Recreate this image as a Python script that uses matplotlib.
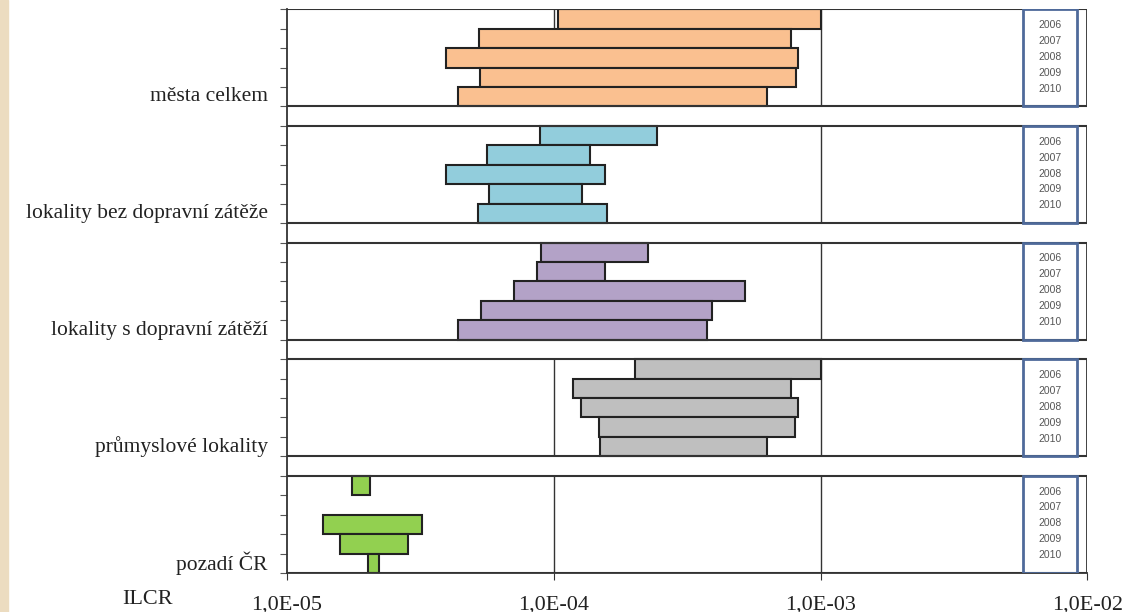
import matplotlib
matplotlib.use("Agg")
import matplotlib.pyplot as plt
from matplotlib.patches import Rectangle

# skupiny lokalit, roky 2006-2010, rozsah ILCR (min, max)
groups = ["města celkem", "lokality bez dopravní zátěže", "lokality s dopravní zátěží",
          "průmyslové lokality", "pozadí ČR"]
years = ["2006", "2007", "2008", "2009", "2010"]
colors = ["#fac090", "#92cddc", "#b3a2c7", "#bfbfbf", "#92d050"]

ilcr_min = [
    [1.04e-4, 5.25e-5, 3.94e-5, 5.3e-5, 4.39e-5],
    [8.9e-5, 5.6e-5, 3.96e-5, 5.7e-5, 5.22e-5],
    [8.94e-5, 8.68e-5, 7.12e-5, 5.33e-5, 4.39e-5],
    [2.01e-4, 1.18e-4, 1.26e-4, 1.48e-4, 1.49e-4],
    [1.75e-5, None, 1.37e-5, 1.58e-5, 2.02e-5],
]
ilcr_max = [
    [1.0e-3, 7.77e-4, 8.22e-4, 8.08e-4, 6.32e-4],
    [2.43e-4, 1.37e-4, 1.55e-4, 1.28e-4, 1.59e-4],
    [2.26e-4, 1.55e-4, 5.19e-4, 3.93e-4, 3.75e-4],
    [1.0e-3, 7.74e-4, 8.22e-4, 8.05e-4, 6.29e-4],
    [2.04e-5, None, 3.2e-5, 2.85e-5, 2.21e-5],
]
xticks = [1e-5, 1e-4, 1e-3, 1e-2]
xlabels = ["1,0E-05", "1,0E-04", "1,0E-03", "1,0E-02"]

plt.rcParams['font.family'] = ['Liberation Serif', 'DejaVu Serif']

fig = plt.figure(figsize=(11.26, 6.12), dpi=100)
fig.patches.append(Rectangle((0, 0), 8 / 1126, 1, transform=fig.transFigure,
                             color="#ecdcc0", zorder=-5))
ax = fig.add_axes([287 / 1126, 1 - 573 / 612, 800.3 / 1126, 563.7 / 612])
ax.set_xscale("log")
ax.set_xlim(1e-5, 1e-2)
ax.set_ylim(29, 0)

for g in range(len(groups)):
    base = 6 * g
    for i in range(len(years)):
        lo, hi = ilcr_min[g][i], ilcr_max[g][i]
        if lo is None:
            continue
        ax.barh(base + i, hi - lo, left=lo, height=1, align="edge",
                color=colors[g], edgecolor="#222222", linewidth=1.5, zorder=3)
    # ramecek skupiny: horni/dolni cara, prava cara, mrizka
    ax.hlines([base, base + 5], 1e-5, 1e-2, color="#333333", lw=1.5, zorder=4)
    ax.vlines(1e-2, base, base + 5, color="#333333", lw=1.3, zorder=4)
    ax.vlines([1e-4, 1e-3], base, base + 5, color="#333333", lw=1, zorder=1)
    ax.text(-0.024, base + 4.5, groups[g], transform=ax.get_yaxis_transform(),
            ha="right", va="center", fontsize=15.5, color="#222222")
    # rámeček s roky
    ax.add_patch(Rectangle((5.75e-3, base), 9.15e-3 - 5.75e-3, 5, fill=False,
                           edgecolor="#4f6a9a", linewidth=2, zorder=5))
    for i, yr in enumerate(years):
        ax.text(7.25e-3, base + 0.81 + 0.82 * i, yr, ha="center", va="center",
                fontsize=7.5, color="#555555", family=["Liberation Sans"], zorder=6)

ax.set_xticks(xticks)
ax.set_xticklabels(xlabels, fontsize=16, color="#222222")
ax.xaxis.set_minor_locator(matplotlib.ticker.NullLocator())
ax.tick_params(axis="x", length=5, pad=11, color="#333333")
ax.set_yticks(range(30))
ax.set_yticklabels([])
ax.tick_params(axis="y", length=5, color="#555555")
ax.spines["top"].set_visible(False)
ax.spines["right"].set_visible(False)
for s in ["left", "bottom"]:
    ax.spines[s].set_color("#333333")
    ax.spines[s].set_linewidth(1.3)

fig.text(148 / 1126, 1 - 600 / 612, "ILCR", ha="center", va="center",
         fontsize=16, color="#222222")

fig.savefig("out.png", dpi=100)
